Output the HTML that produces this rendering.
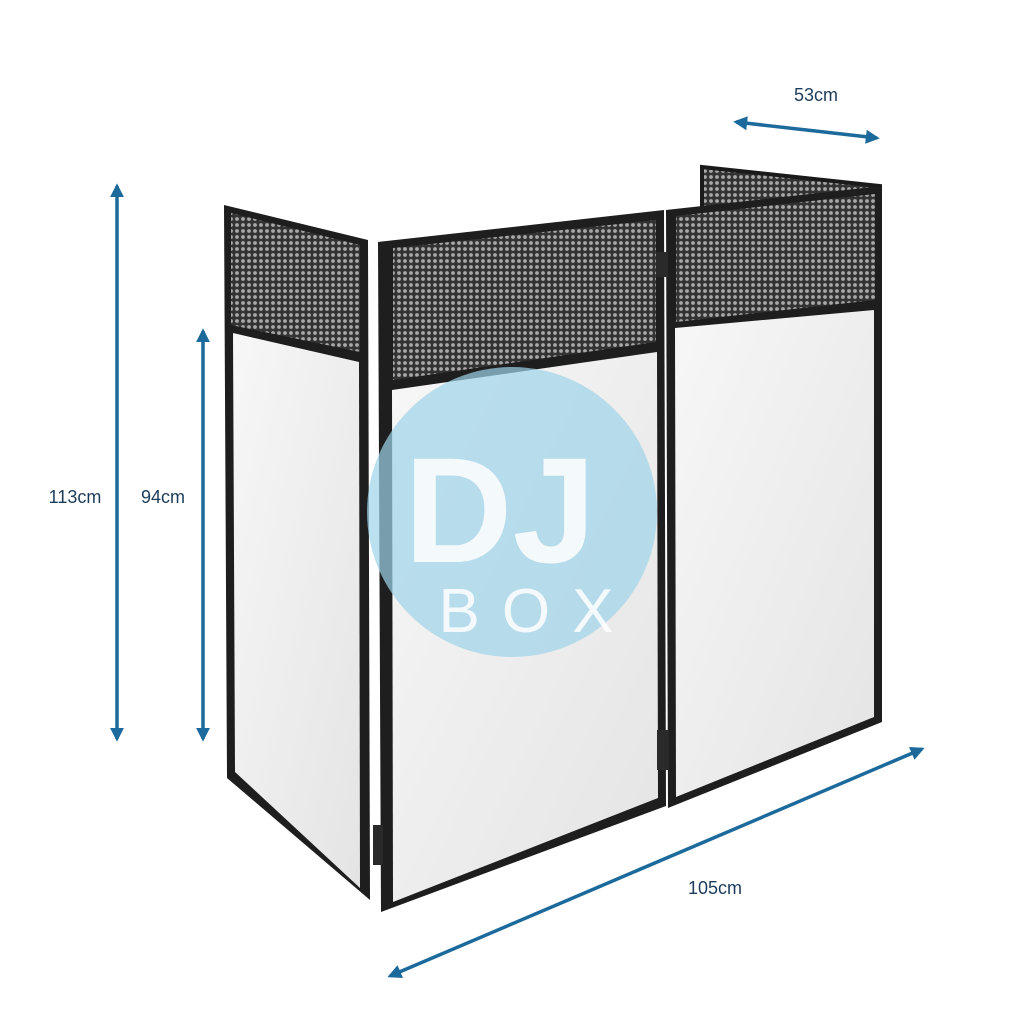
<!DOCTYPE html>
<html><head><meta charset="utf-8"><style>
html,body{margin:0;padding:0;background:#fff;}
svg{display:block}
text{font-family:"Liberation Sans",sans-serif;}
</style></head><body>
<svg width="1024" height="1024" viewBox="0 0 1024 1024">
<defs>
<pattern id="mesh" width="6" height="6" patternUnits="userSpaceOnUse">
<rect width="6" height="6" fill="#333"/>
<circle cx="3" cy="3" r="1.9" fill="#a8a8a8"/>
</pattern>
<marker id="ah" viewBox="0 0 10 10" refX="8" refY="5" markerWidth="4" markerHeight="4" orient="auto-start-reverse">
<path d="M0,0 L10,5 L0,10 z" fill="#1c6a9c"/>
</marker>
<linearGradient id="wg" x1="0" y1="0" x2="1" y2="1">
<stop offset="0" stop-color="#f7f7f7"/><stop offset="1" stop-color="#e4e4e4"/>
</linearGradient>
</defs>

<!-- back mesh panel -->
<polygon points="702,167 880,186 880,298 702,288" fill="url(#mesh)" stroke="#1a1a1a" stroke-width="4"/>

<!-- left panel -->
<polygon points="224,205 368,240 370,900 227,778" fill="#1e1e1e"/>
<polygon points="231,213 360,245 360,352 231,325" fill="url(#mesh)"/>
<polygon points="233,333 359,362 360,888 235,772" fill="url(#wg)"/>

<!-- right panel -->
<polygon points="666,210 882,186 882,722 668,808" fill="#1e1e1e"/>
<polygon points="676,216 875,194 875,300 676,322" fill="url(#mesh)"/>
<polygon points="675,328 874,310 874,717 676,797" fill="url(#wg)"/>

<!-- center panel -->
<polygon points="378,242 664,210 666,806 381,912" fill="#1e1e1e"/>
<polygon points="393,248 656,220 656,342 393,380" fill="url(#mesh)"/>
<polygon points="392,390 657,352 658,798 393,902" fill="url(#wg)"/>

<!-- feet / hinges -->
<rect x="657" y="730" width="12" height="40" fill="#2a2a2a"/>
<rect x="373" y="825" width="10" height="40" fill="#2a2a2a"/>
<rect x="656" y="252" width="12" height="25" fill="#2a2a2a"/>

<!-- watermark -->
<circle cx="512" cy="512" r="145" fill="#9ed3ea" opacity="0.7"/>
<text x="500" y="562" font-size="150" font-weight="bold" fill="#ffffff" text-anchor="middle" opacity="0.85">DJ</text>
<text x="537" y="632" font-size="62" fill="#ffffff" text-anchor="middle" letter-spacing="22" opacity="0.85">BOX</text>

<!-- dimension arrows -->
<g stroke="#1c6a9c" stroke-width="3.5" fill="none">
<line x1="117" y1="186" x2="117" y2="739" marker-start="url(#ah)" marker-end="url(#ah)"/>
<line x1="203" y1="331" x2="203" y2="739" marker-start="url(#ah)" marker-end="url(#ah)"/>
<line x1="736" y1="122" x2="877" y2="138" marker-start="url(#ah)" marker-end="url(#ah)"/>
<line x1="390" y1="976" x2="922" y2="749" marker-start="url(#ah)" marker-end="url(#ah)"/>
</g>
<text x="75" y="503" font-size="18" fill="#1d3c5a" text-anchor="middle">113cm</text>
<text x="163" y="503" font-size="18" fill="#1d3c5a" text-anchor="middle">94cm</text>
<text x="816" y="101" font-size="18" fill="#1d3c5a" text-anchor="middle">53cm</text>
<text x="715" y="894" font-size="18" fill="#1d3c5a" text-anchor="middle">105cm</text>
</svg>
</body></html>
